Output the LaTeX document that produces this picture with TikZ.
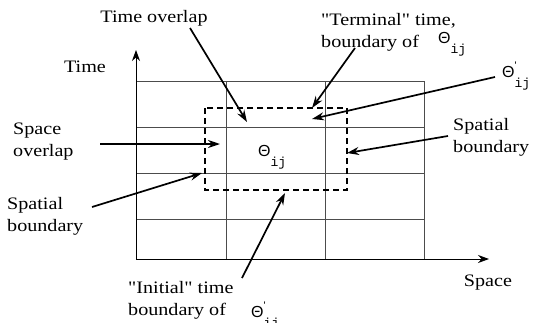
\documentclass[tikz,border=0pt]{standalone}
\usepackage{fontspec}
\setmainfont[FakeStretch=1.15]{Liberation Serif}
\setmonofont{Liberation Mono}
\newfontfamily\thetafont{Liberation Sans}
\newfontfamily\quotefont[FakeStretch=1.15]{Liberation Serif}
\usetikzlibrary{arrows.meta}
\newcommand{\qq}{{\quotefont"}}
\newcommand{\thij}{{\thetafont\fontsize{16}{16}\selectfont Θ}\raisebox{-10pt}{\fontsize{13}{13}\ttfamily ij}}
\newcommand{\thpij}{{\thetafont\fontsize{16}{16}\selectfont Θ}\rlap{\raisebox{8pt}{\thetafont\fontsize{11}{11}\selectfont '}}\raisebox{-10pt}{\fontsize{13}{13}\ttfamily ij}}
\tikzset{
  gridline/.style={draw=black!70, line width=0.7pt},
  axis/.style={-{Stealth[length=11pt,width=8pt]}, line width=0.8pt},
  pointer/.style={-{Stealth[length=12pt,width=8pt]}, line width=1.7pt},
  lbl/.style={font=\fontsize{17.5}{22}\selectfont, align=left, inner sep=0pt},
  overlapbox/.style={dashed, dash pattern=on 6pt off 4pt, line width=1.7pt}
}
\begin{document}
\begin{tikzpicture}[x=1pt,y=-1pt]
    \useasboundingbox (0,0) rectangle (535,322);
    % grid of subdomains
    \foreach \xx in {226,325,424} \draw[gridline] (\xx,81) -- (\xx,259);
    \foreach \yy in {81,127,173,219} \draw[gridline] (136,\yy) -- (424,\yy);
    % axes
    \coordinate (orig) at (136,259);
    \coordinate (tend) at (136,50);
    \coordinate (send) at (489,259);
    \draw[axis] (orig) -- (tend);
    \draw[axis] (orig) -- (send);
    \node[lbl] (tlab) at (85,67) {Time};
    \node[lbl] (slab) at (488,283) {Space};
    % overlapping subdomain
    \draw[overlapbox] (205,108) rectangle (347,190);
    \node[inner sep=0pt,anchor=base west] (th) at (258,156) {\thij};
    % labels
    \node[lbl] (tover) at (154,18) {Time overlap};
    \node[lbl,anchor=west] (sover) at (13,142) {Space\\overlap};
    \node[lbl,anchor=west] (term) at (321,32) {\qq Terminal\qq{} time,\\boundary of};
    \node[inner sep=0pt,anchor=base west] (thterm) at (438,43) {\thij};
    \node[inner sep=0pt,anchor=base west] (thp) at (502,77) {\thpij};
    \node[lbl,anchor=west] (rspat) at (453,137) {Spatial\\boundary};
    \node[lbl,anchor=west] (lspat) at (7,216) {Spatial\\boundary};
    \node[lbl,anchor=west] (init) at (128,300) {\qq Initial\qq{} time\\boundary of};
    \node[inner sep=0pt,anchor=base west] (thinit) at (251,317) {\thpij};
    % pointers
    \coordinate (a1) at (190,28);   \coordinate (b1) at (247,122);
    \coordinate (a2) at (100,144);  \coordinate (b2) at (220,144);
    \coordinate (a3) at (355,48);   \coordinate (b3) at (312,108);
    \coordinate (a4) at (495,77);   \coordinate (b4) at (312,119);
    \coordinate (a5) at (448,136);  \coordinate (b5) at (347,153);
    \coordinate (a6) at (92,207);   \coordinate (b6) at (202,173);
    \coordinate (a7) at (242,278);  \coordinate (b7) at (285,193);
    \draw[pointer] (a1) -- (b1);
    \draw[pointer] (a2) -- (b2);
    \draw[pointer] (a3) -- (b3);
    \draw[pointer] (a4) -- (b4);
    \draw[pointer] (a5) -- (b5);
    \draw[pointer] (a6) -- (b6);
    \draw[pointer] (a7) -- (b7);
\end{tikzpicture}
\end{document}
